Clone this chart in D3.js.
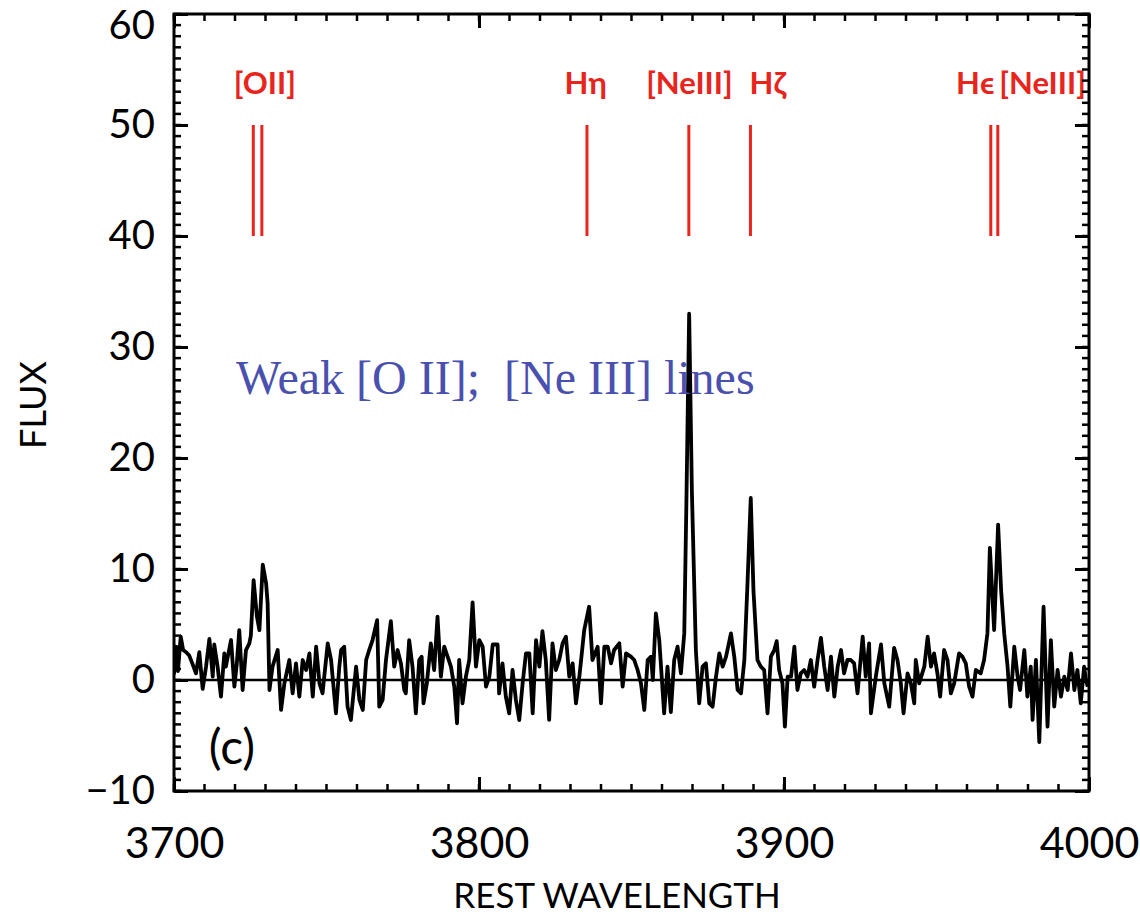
<!DOCTYPE html>
<html>
<head>
<meta charset="utf-8">
<script src="https://cdn.jsdelivr.net/npm/d3@7"></script>
<style>
  body { margin: 0; background: #fff; }
</style>
</head>
<body>
<svg id="chart" width="1140" height="918"></svg>
<script>
// spectrum (rest wavelength, flux)
const waveRead = [
  3700.0, 3700.6, 3701.3, 3702.2, 3703.0, 3704.0, 3705.0, 3706.0, 3707.2, 3708.3,
  3709.4, 3710.5, 3711.6, 3712.7, 3713.2, 3714.3, 3715.4, 3716.5, 3717.0, 3718.7,
  3719.8, 3720.6, 3721.4, 3722.5, 3723.6, 3724.7, 3725.2, 3726.1, 3727.2, 3728.0,
  3729.1, 3730.2, 3730.7, 3731.3, 3732.3, 3734.0, 3735.1, 3736.2, 3737.8, 3738.9,
  3740.0, 3741.1, 3742.2, 3743.3, 3744.4, 3745.5, 3746.6, 3747.7, 3748.7, 3750.4,
  3751.5, 3753.1, 3754.2, 3754.8, 3755.8, 3756.9, 3758.0, 3759.7, 3760.8, 3761.9,
  3763.0, 3764.0, 3765.1, 3766.6, 3767.3, 3768.4, 3769.5, 3771.1, 3772.2, 3773.3,
  3774.4, 3775.5, 3776.0, 3777.1, 3778.2, 3779.3, 3780.4, 3781.2, 3781.8, 3782.9,
  3784.2, 3785.3, 3786.4, 3787.5, 3788.6, 3789.7, 3790.8, 3791.9, 3792.8, 3793.5,
  3794.6, 3795.7, 3796.8, 3797.9, 3799.0, 3800.1, 3801.2, 3802.3, 3803.4, 3804.5,
  3806.1, 3806.6, 3807.7, 3808.8, 3809.9, 3811.0, 3812.1, 3813.2, 3814.3, 3815.4,
  3816.5, 3817.6, 3818.7, 3819.8, 3820.8, 3821.9, 3823.0, 3824.1, 3825.2, 3826.3,
  3827.4, 3828.5, 3829.6, 3830.7, 3831.8, 3832.9, 3834.5, 3836.1, 3837.2, 3838.9,
  3840.0, 3841.1, 3842.2, 3843.3, 3844.3, 3846.0, 3847.1, 3848.2, 3849.8, 3850.9,
  3852.0, 3853.1, 3854.2, 3855.3, 3856.4, 3857.0, 3858.0, 3859.1, 3859.9, 3860.7,
  3861.8, 3862.9, 3864.0, 3865.1, 3866.2, 3867.3, 3868.0, 3868.9, 3869.8, 3871.1,
  3872.2, 3873.3, 3874.4, 3875.5, 3876.6, 3877.7, 3878.8, 3879.9, 3881.0, 3882.6,
  3883.7, 3884.8, 3885.9, 3887.0, 3888.0, 3889.1, 3890.0, 3891.3, 3892.4, 3893.5,
  3894.6, 3895.7, 3896.8, 3897.6, 3898.4, 3899.5, 3900.3, 3901.2, 3902.3, 3903.4,
  3904.4, 3905.5, 3906.6, 3907.7, 3908.8, 3909.9, 3911.0, 3912.1, 3913.2, 3914.3,
  3915.4, 3916.5, 3917.6, 3918.7, 3919.7, 3920.8, 3921.9, 3923.0, 3924.1, 3925.8,
  3926.8, 3927.9, 3928.5, 3930.1, 3931.8, 3932.9, 3934.5, 3936.1, 3937.2, 3938.3,
  3939.2, 3940.5, 3941.6, 3942.7, 3943.2, 3944.3, 3946.0, 3947.1, 3948.2, 3949.2,
  3950.3, 3951.2, 3952.5, 3953.6, 3954.7, 3955.8, 3957.4, 3958.5, 3959.6, 3960.7,
  3961.8, 3962.9, 3964.5, 3965.6, 3966.7, 3967.5, 3968.9, 3970.2, 3971.2, 3972.2,
  3973.3, 3974.2, 3975.5, 3976.6, 3977.4, 3978.8, 3979.8, 3980.9, 3981.5, 3982.6,
  3983.7, 3985.1, 3986.4, 3987.5, 3988.6, 3989.7, 3990.8, 3991.9, 3993.0, 3994.1,
  3995.2, 3996.2, 3997.3, 3998.4, 3999.0, 3999.6
];
const fluxRead = [
   0.5,  3.0,  0.8,  3.9,  2.7,  2.5,  2.2,  1.5,  0.6,  2.5,
  -0.8,  1.2,  3.7,  0.3,  3.2,  1.2, -1.5,  2.4,  1.2,  3.6,
  -0.6,  1.5,  4.5, -0.9,  2.7,  3.3,  4.0,  9.0,  5.7,  4.5,
  10.4,  8.7,  6.9, -0.9,  1.2,  2.7, -2.7, -0.3,  1.8, -1.2,
   1.5, -1.5,  1.8,  0.9,  2.4, -1.5,  3.0, -0.3, -1.2,  3.3,
   1.8, -3.0,  1.2,  2.7,  3.0, -2.4, -3.6,  1.2, -1.8, -2.7,
   1.8,  2.7,  3.6,  5.4, -2.4, -1.8,  1.8,  5.3,  1.2,  2.7,
   1.5, -0.9, -1.2,  3.6,  1.2, -3.0,  1.8,  2.1, -2.1, -0.3,
   3.3,  0.9,  5.7,  0.3,  3.0,  2.1,  1.2, -0.6, -3.9,  1.8,
  -2.1,  0.3,  1.8,  7.0,  1.2,  3.6,  3.0, -0.6,  0.3,  3.2,
   3.2, -1.2,  1.5, -1.5, -3.0,  0.9, -1.8, -3.6, -0.3,  2.4,
   2.4, -3.0,  3.6,  1.2,  4.4,  1.8, -3.6,  3.3,  0.9,  1.8,
   3.3,  3.9,  0.3,  1.5, -2.1,  0.3,  4.5,  6.6,  1.8,  3.0,
  -2.1,  3.0,  3.0,  1.5,  2.7,  3.3, -0.6,  2.4,  2.1,  1.8,
   0.9, -0.3, -2.7,  1.8,  2.1,  0.0,  6.0,  3.6,  0.3, -3.0,
   1.2, -2.9,  1.8,  3.0,  0.6,  4.2, 16.0, 33.0, 17.0,  2.7,
  -2.1,  1.2,  1.5, -2.1, -2.4,  0.3,  2.4,  1.2,  2.1,  4.2,
   2.1, -0.9, -1.2,  1.8,  8.5, 16.4,  8.0,  1.8,  1.2,  0.9,
  -3.0,  2.1,  2.7,  3.5,  0.9, -0.3, -4.2,  0.3,  0.3,  3.0,
  -0.9,  0.6,  0.9,  0.3,  1.8, -0.6,  1.8,  3.8,  1.2, -0.9,
   2.1, -1.5,  1.2,  2.7,  0.6,  1.8,  1.8,  1.5, -1.2,  3.9,
   0.3,  3.3, -3.0,  0.3,  3.2, -0.3, -2.4,  2.9,  1.8, -0.3,
  -3.0,  0.6, -0.3, -2.1,  1.8, -0.3,  1.2,  3.9,  1.2,  2.4,
   0.6, -1.5,  2.7,  1.8, -1.2, -0.3,  2.4,  2.1,  1.5, -0.6,
  -1.5,  0.9,  0.6,  1.8,  4.2, 11.9,  4.5, 14.0,  8.0,  4.2,
   1.2, -2.4,  3.0,  0.3, -0.9,  2.7, -1.5,  1.2, -3.6,  1.8,
  -5.6,  6.6, -4.2,  3.6, -2.4,  0.9, -1.5,  0.3, -0.9,  2.4,
  -0.9,  0.9, -2.1,  1.2,  0.0, -0.6
];

// emission line markers and their labels
const markerWaves = [3726.0, 3728.8, 3835.4, 3868.8, 3889.0, 3967.8, 3970.1];
const markerFrom = 40;
const markerTo = 50;
const labelText = ["[OII]", "Hη", "[NeIII]", "Hζ", "Hϵ", "[NeIII]"];
const labelWave = [3729.8, 3835.0, 3869.0, 3888.7, 3969.0, 3970.6];
const labelAnchor = ["middle", "middle", "middle", "start", "end", "start"];

const xMajor = [3700, 3800, 3900, 4000];
const xMinor = d3.range(3700, 4001, 10);
const yMajor = [-10, 0, 10, 20, 30, 40, 50, 60];
const yMinor = d3.range(-10, 60.01, 1);

const svg = d3.select("#chart");
const pLeft = 174, pRight = 1089, pTop = 14, pBottom = 791;

const x = d3.scaleLinear().domain([3700, 4000]).range([pLeft, pRight]);
const y = d3.scaleLinear().domain([-10, 60]).range([pBottom, pTop]);

const axisFont = "Lato, 'Noto Sans', sans-serif";

svg.append("defs").append("clipPath").attr("id", "plotclip")
  .append("rect").attr("x", pLeft).attr("y", pTop)
  .attr("width", pRight - pLeft).attr("height", pBottom - pTop);

// zero line
svg.append("line")
  .attr("x1", pLeft).attr("x2", pRight)
  .attr("y1", y(0)).attr("y2", y(0))
  .attr("stroke", "#000").attr("stroke-width", 2.5);

// spectrum
const pts = waveRead.map((w, i) => [w, fluxRead[i]]);
svg.append("path")
  .datum(pts)
  .attr("clip-path", "url(#plotclip)")
  .attr("fill", "none")
  .attr("stroke", "#000")
  .attr("stroke-width", 3.8)
  .attr("stroke-linejoin", "round")
  .attr("d", d3.line().x(d => x(d[0])).y(d => y(d[1])));

// red line markers
svg.selectAll("line.marker")
  .data(markerWaves)
  .join("line")
  .attr("class", "marker")
  .attr("x1", d => x(d)).attr("x2", d => x(d))
  .attr("y1", y(markerFrom)).attr("y2", y(markerTo))
  .attr("stroke", "#e8251c").attr("stroke-width", 3);

svg.selectAll("text.lab")
  .data(labelText)
  .join("text")
  .attr("class", "lab")
  .attr("x", (d, i) => x(labelWave[i]))
  .attr("y", 94)
  .attr("text-anchor", (d, i) => labelAnchor[i])
  .attr("fill", "#e8251c")
  .attr("font-family", axisFont)
  .attr("font-weight", "bold")
  .attr("font-size", 31)
  .text(d => d);

// frame
svg.append("rect")
  .attr("x", pLeft).attr("y", pTop)
  .attr("width", pRight - pLeft).attr("height", pBottom - pTop)
  .attr("fill", "none").attr("stroke", "#000").attr("stroke-width", 3);

// minor ticks (all four sides)
const ticks = svg.append("g").attr("stroke", "#000").attr("stroke-width", 2.5);
ticks.selectAll("line.xb").data(xMinor).join("line").attr("class", "xb")
  .attr("x1", d => x(d)).attr("x2", d => x(d))
  .attr("y1", pBottom).attr("y2", pBottom - 7);
ticks.selectAll("line.xt").data(xMinor).join("line").attr("class", "xt")
  .attr("x1", d => x(d)).attr("x2", d => x(d))
  .attr("y1", pTop).attr("y2", pTop + 7);
ticks.selectAll("line.yl").data(yMinor).join("line").attr("class", "yl")
  .attr("y1", d => y(d)).attr("y2", d => y(d))
  .attr("x1", pLeft).attr("x2", pLeft + 7);
ticks.selectAll("line.yr").data(yMinor).join("line").attr("class", "yr")
  .attr("y1", d => y(d)).attr("y2", d => y(d))
  .attr("x1", pRight).attr("x2", pRight - 7);

// major ticks with labels
const xAxis = svg.append("g")
  .attr("transform", `translate(0,${pBottom})`)
  .call(d3.axisBottom(x).tickValues(xMajor).tickSizeInner(-14).tickSizeOuter(0).tickPadding(36)
    .tickFormat(d3.format("d")));
const xAxisTop = svg.append("g")
  .attr("transform", `translate(0,${pTop})`)
  .call(d3.axisTop(x).tickValues(xMajor).tickSizeInner(-14).tickSizeOuter(0).tickFormat(""));
const yAxis = svg.append("g")
  .attr("transform", `translate(${pLeft},0)`)
  .call(d3.axisLeft(y).tickValues(yMajor).tickSizeInner(-14).tickSizeOuter(0).tickPadding(19)
    .tickFormat(d => d < 0 ? "\u2212" + Math.abs(d) : d));
const yAxisRight = svg.append("g")
  .attr("transform", `translate(${pRight},0)`)
  .call(d3.axisRight(y).tickValues(yMajor).tickSizeInner(-14).tickSizeOuter(0).tickFormat(""));

[xAxis, xAxisTop, yAxis, yAxisRight].forEach(g => {
  g.select(".domain").remove();
  g.selectAll(".tick line").attr("stroke", "#000").attr("stroke-width", 3);
  g.selectAll("text").attr("fill", "#000").attr("font-family", axisFont);
});
xAxis.selectAll("text").attr("font-size", 43);
yAxis.selectAll("text").attr("font-size", 40);
// the top label sits just inside the page, as in the original
yAxis.selectAll(".tick").filter(d => d === 60).select("text").attr("dy", "0.62em");

// axis titles
svg.append("text")
  .attr("x", 617).attr("y", 908)
  .attr("text-anchor", "middle")
  .attr("font-family", axisFont).attr("font-size", 35)
  .text("REST WAVELENGTH");

svg.append("text")
  .attr("transform", "translate(46,405) rotate(-90)")
  .attr("text-anchor", "middle")
  .attr("font-family", axisFont).attr("font-size", 36)
  .text("FLUX");

// panel tag
svg.append("text")
  .attr("x", 232).attr("y", 764)
  .attr("text-anchor", "middle")
  .attr("font-family", axisFont).attr("font-size", 48)
  .text("(c)");

// note
svg.append("text")
  .attr("x", 236).attr("y", 394)
  .attr("font-family", "'Liberation Serif', 'Times New Roman', serif")
  .attr("font-size", 48)
  .attr("fill", "#4a50ae")
  .style("white-space", "pre")
  .text("Weak [O II];  [Ne III] lines");
</script>
</body>
</html>
